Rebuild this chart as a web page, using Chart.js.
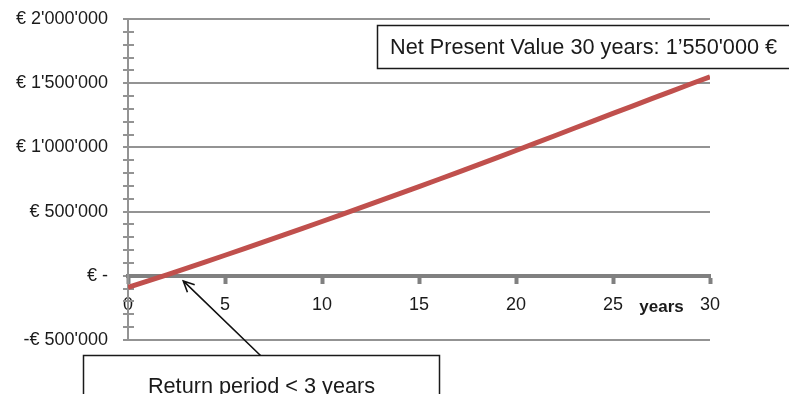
<!DOCTYPE html>
<html>
<head>
<meta charset="utf-8">
<script src="https://cdn.jsdelivr.net/npm/chart.js@4/dist/chart.umd.min.js"></script>
<style>
  html, body { margin: 0; padding: 0; background: #ffffff; }
  canvas { display: block; }
</style>
</head>
<body>
<canvas id="npvChart" width="789" height="394"></canvas>
<script>
// Cumulative net present value by year (EUR)
const years = [0, 1, 2, 3, 4, 5, 6, 7, 8, 9, 10, 11, 12, 13, 14, 15, 16, 17, 18, 19, 20,
               21, 22, 23, 24, 25, 26, 27, 28, 29, 30];
const npvValues = [-90000, -42000, 8000, 58000, 108000, 160000, 212000, 264000, 317000, 370000, 423000,
                   477000, 531000, 585000, 640000, 695000, 750000, 806000, 862000, 919000, 976000,
                   1033000, 1091000, 1149000, 1207000, 1265000, 1322000, 1380000, 1437000, 1494000, 1550000];

// Axis ranges and ticks
const yRange = [-500000, 2000000];
const yMajorStep = 500000;
const yMinorStep = 100000;
const xRange = [0, 30];
const xTickStep = 5;

// Texts
const xAxisTitle = 'years';
const npvNote = 'Net Present Value 30 years: 1’550\'000 €';
const paybackNote = 'Return period < 3 years';
const paybackPoint = [2.85, -40000];   // where the arrow points (year, EUR)

const FONT = '"Liberation Sans", Arial, Helvetica, sans-serif';
const GRID = '#939393';
const AXIS = '#808080';

function groupDigits(v) {
  return String(Math.round(v)).replace(/\B(?=(\d{3})+(?!\d))/g, "'");
}
function euroLabel(v) {
  if (v === 0) return '€ -';
  if (v < 0) return '-€ ' + groupDigits(-v);
  return '€ ' + groupDigits(v);
}

const overlay = {
  id: 'overlay',
  beforeDatasetsDraw(chart) {
    const { ctx, scales: { x, y } } = chart;
    const ax = x.getPixelForValue(xRange[0]);
    ctx.save();
    ctx.strokeStyle = GRID;
    ctx.lineWidth = 2;
    for (let v = yRange[0]; v <= yRange[1]; v += yMinorStep) {
      if (v % yMajorStep === 0) continue;
      const py = Math.round(y.getPixelForValue(v));
      ctx.beginPath();
      ctx.moveTo(ax - 5, py);
      ctx.lineTo(ax + 6, py);
      ctx.stroke();
    }
    ctx.restore();
  },
  afterDraw(chart) {
    const { ctx, scales: { x, y } } = chart;
    ctx.save();

    // axis title between the last two ticks
    ctx.fillStyle = '#1a1a1a';
    ctx.font = 'bold 17px ' + FONT;
    ctx.textAlign = 'center';
    ctx.textBaseline = 'alphabetic';
    const tx = (x.getPixelForValue(25) + x.getPixelForValue(30)) / 2;
    ctx.fillText(xAxisTitle, tx, y.getPixelForValue(0) + 36);

    // NPV note box
    ctx.font = '21.7px ' + FONT;
    ctx.lineWidth = 1.5;
    ctx.strokeStyle = '#1a1a1a';
    ctx.fillStyle = '#ffffff';
    const b1 = { l: 377.5, t: 25.5, r: 800, b: 68.5 };
    ctx.fillRect(b1.l, b1.t, b1.r - b1.l, b1.b - b1.t);
    ctx.strokeRect(b1.l, b1.t, b1.r - b1.l, b1.b - b1.t);
    ctx.fillStyle = '#1a1a1a';
    ctx.textAlign = 'left';
    ctx.textBaseline = 'middle';
    ctx.fillText(npvNote, b1.l + 12.5, (b1.t + b1.b) / 2 + 1);

    // payback note box with arrow
    const b2 = { l: 83.5, t: 355.5, r: 439.5, b: 420 };
    ctx.fillStyle = '#ffffff';
    ctx.fillRect(b2.l, b2.t, b2.r - b2.l, b2.b - b2.t);
    ctx.strokeRect(b2.l, b2.t, b2.r - b2.l, b2.b - b2.t);
    ctx.fillStyle = '#1a1a1a';
    ctx.textAlign = 'center';
    ctx.fillText(paybackNote, (b2.l + b2.r) / 2, 387);

    const tailX = (b2.l + b2.r) / 2 - 1, tailY = b2.t;
    const tipX = x.getPixelForValue(paybackPoint[0]);
    const tipY = y.getPixelForValue(paybackPoint[1]);
    const ang = Math.atan2(tipY - tailY, tipX - tailX);
    ctx.strokeStyle = '#111111';
    ctx.lineWidth = 1.6;
    ctx.beginPath();
    ctx.moveTo(tailX, tailY);
    ctx.lineTo(tipX, tipY);
    const head = 12, spread = 0.45;
    ctx.moveTo(tipX - head * Math.cos(ang - spread), tipY - head * Math.sin(ang - spread));
    ctx.lineTo(tipX, tipY);
    ctx.lineTo(tipX - head * Math.cos(ang + spread), tipY - head * Math.sin(ang + spread));
    ctx.stroke();
    ctx.restore();
  }
};

new Chart(document.getElementById('npvChart'), {
  type: 'line',
  data: {
    datasets: [{
      data: years.map((yr, i) => ({ x: yr, y: npvValues[i] })),
      borderColor: '#c0504d',
      borderWidth: 5,
      pointRadius: 0,
      tension: 0,
      fill: false
    }]
  },
  options: {
    responsive: false,
    animation: false,
    layout: { padding: { left: 0, top: 19, right: 79, bottom: 54 } },
    plugins: { legend: { display: false }, tooltip: { enabled: false } },
    scales: {
      x: {
        type: 'linear',
        position: { y: 0 },
        min: xRange[0],
        max: xRange[1],
        ticks: {
          stepSize: xTickStep,
          padding: 12,
          color: '#1a1a1a',
          font: { family: FONT, size: 18 },
          maxRotation: 0
        },
        grid: {
          drawOnChartArea: false,
          drawTicks: true,
          tickLength: 6,
          tickWidth: 4,
          tickColor: AXIS
        },
        border: { color: AXIS, width: 4 }
      },
      y: {
        min: yRange[0],
        max: yRange[1],
        afterFit(scale) {
          scale.width = 128;
          scale.paddingTop = 0;
          scale.paddingBottom = 0;
        },
        ticks: {
          stepSize: yMajorStep,
          padding: 15,
          color: '#1a1a1a',
          font: { family: FONT, size: 18 },
          callback: (v) => euroLabel(v)
        },
        grid: {
          color: GRID,
          lineWidth: 2,
          tickLength: 5,
          tickColor: GRID
        },
        border: { color: GRID, width: 2 }
      }
    }
  },
  plugins: [overlay]
});
</script>
</body>
</html>
